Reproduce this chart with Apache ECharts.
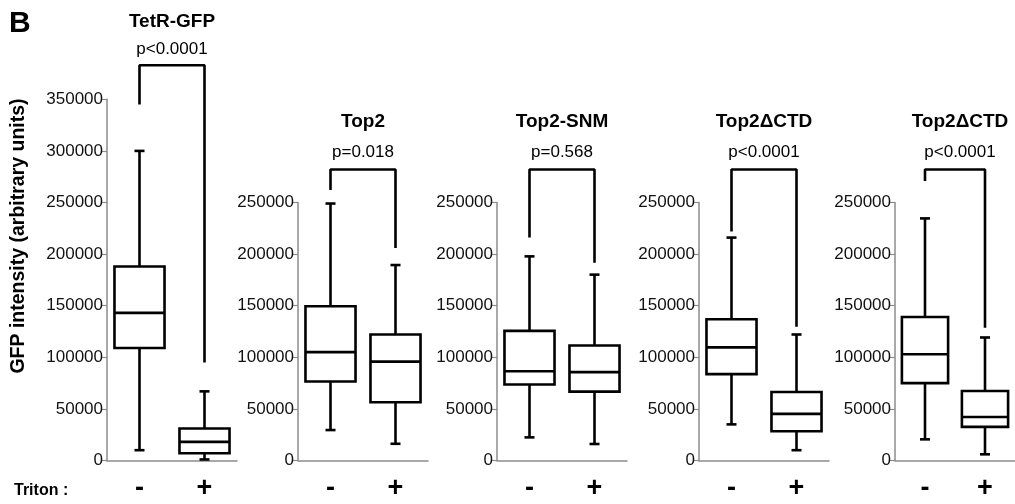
<!DOCTYPE html>
<html>
<head>
<meta charset="utf-8">
<script src="https://cdn.jsdelivr.net/npm/echarts@6/dist/echarts.min.js"></script>
<style>
  html, body { margin: 0; padding: 0; background: #fff; }
  #chart { width: 1015px; height: 504px; }
</style>
</head>
<body>
<div id="chart"></div>
<script>
const panelNames = ['TetR-GFP', 'Top2', 'Top2-SNM', 'Top2\u0394CTD', 'Top2\u0394CTD'];
const pValues = ['p<0.0001', 'p=0.018', 'p=0.568', 'p<0.0001', 'p<0.0001'];
const categories = ['-', '+'];
const yMax = [350000, 250000, 250000, 250000, 250000];

// [min, Q1, median, Q3, max]
const minusBox = [
  [10000, 109000, 143000, 188000, 300000],
  [29500, 76500, 105000, 149500, 249000],
  [22400, 73700, 86500, 125600, 197800],
  [35000, 83700, 109600, 136900, 216000],
  [20500, 75000, 102900, 139100, 234600],
];
const plusBox = [
  [1000, 7000, 18000, 31000, 67000],
  [16200, 56500, 95800, 122100, 189400],
  [16000, 66700, 85600, 111500, 180100],
  [10000, 28300, 45200, 66400, 122100],
  [6000, 32600, 42200, 67300, 119200],
];

// significance brackets
const bracketTop = [383000, 282000, 282000, 282000, 282000];
const bracketLeftEnd = [345000, 262000, 216000, 222000, 270800];
const bracketRightEnd = [95000, 206000, 191700, 129600, 128700];

const chart = echarts.init(document.getElementById('chart'));

const gridLeft = [107, 298, 497, 699, 895];
const gridW = 130;
const zeroY = 460.5;
const pxPer50k = 51.6;
const font = 'Liberation Sans, Arial, sans-serif';

const grids = [];
const xAxes = [];
const yAxes = [];
const series = [];
const texts = [];

function renderBox(params, api) {
  const x = api.value(0);
  const pMin = api.coord([x, api.value(1)]);
  const pQ1 = api.coord([x, api.value(2)]);
  const pMed = api.coord([x, api.value(3)]);
  const pQ3 = api.coord([x, api.value(4)]);
  const pMax = api.coord([x, api.value(5)]);
  const cx = pMed[0];
  const hw = api.size([1, 0])[0] * 0.385;
  const cap = 5;
  const st = { stroke: '#000', lineWidth: 2.6 };
  return {
    type: 'group',
    children: [
      { type: 'line', shape: { x1: cx, y1: pMax[1], x2: cx, y2: pQ3[1] }, style: st },
      { type: 'line', shape: { x1: cx, y1: pQ1[1], x2: cx, y2: pMin[1] }, style: st },
      { type: 'line', shape: { x1: cx - cap, y1: pMax[1], x2: cx + cap, y2: pMax[1] }, style: st },
      { type: 'line', shape: { x1: cx - cap, y1: pMin[1], x2: cx + cap, y2: pMin[1] }, style: st },
      { type: 'rect', shape: { x: cx - hw, y: pQ3[1], width: hw * 2, height: pQ1[1] - pQ3[1] },
        style: { stroke: '#000', lineWidth: 2.6, fill: '#fff' } },
      { type: 'line', shape: { x1: cx - hw, y1: pMed[1], x2: cx + hw, y2: pMed[1] }, style: st },
    ],
  };
}

panelNames.forEach((name, i) => {
  const top = zeroY - (yMax[i] / 50000) * pxPer50k;
  grids.push({ left: gridLeft[i], top: top, width: gridW, height: zeroY - top });
  xAxes.push({
    type: 'category',
    gridIndex: i,
    data: categories,
    axisLine: { lineStyle: { color: '#8c8c8c', width: 1.5 } },
    axisTick: { show: false },
    axisLabel: { fontFamily: font, fontWeight: 'bold', fontSize: 27, color: '#000', margin: 15 },
  });
  yAxes.push({
    type: 'value',
    gridIndex: i,
    min: 0,
    max: yMax[i],
    interval: 50000,
    splitLine: { show: false },
    axisLine: { show: true, lineStyle: { color: '#8c8c8c', width: 1.5 } },
    axisTick: { show: true, length: 5, lineStyle: { color: '#8c8c8c', width: 1.2 } },
    axisLabel: { fontFamily: font, fontSize: 17, color: '#111', margin: 4, formatter: (v) => String(v) },
  });
  series.push({
    type: 'custom',
    xAxisIndex: i,
    yAxisIndex: i,
    renderItem: renderBox,
    encode: { x: 0, y: [1, 2, 3, 4, 5] },
    data: [[0].concat(minusBox[i]), [1].concat(plusBox[i])],
    animation: false,
  });
  series.push({
    type: 'line',
    xAxisIndex: i,
    yAxisIndex: i,
    symbol: 'none',
    clip: false,
    lineStyle: { color: '#000', width: 2.6 },
    data: [[0, bracketLeftEnd[i]], [0, bracketTop[i]], [1, bracketTop[i]], [1, bracketRightEnd[i]]],
    animation: false,
  });
  const cx = gridLeft[i] + gridW / 2;
  const titleY = i === 0 ? 22 : 122;
  const pY = i === 0 ? 49 : 152;
  texts.push({
    type: 'text', x: cx, y: titleY,
    style: { text: name, font: 'bold 19px ' + font, fill: '#000', textAlign: 'center', textVerticalAlign: 'middle' },
  });
  texts.push({
    type: 'text', x: cx, y: pY,
    style: { text: pValues[i], font: '17px ' + font, fill: '#000', textAlign: 'center', textVerticalAlign: 'middle' },
  });
});

texts.push({
  type: 'text', x: 9, y: 24,
  style: { text: 'B', font: 'bold 30px ' + font, fill: '#000', textAlign: 'left', textVerticalAlign: 'middle' },
});
texts.push({
  type: 'text', x: 14, y: 491,
  style: { text: 'Triton :', font: 'bold 16px ' + font, fill: '#000', textAlign: 'left', textVerticalAlign: 'middle' },
});
texts.push({
  type: 'text', x: 19, y: 236, rotation: Math.PI / 2,
  style: { text: 'GFP intensity (arbitrary units)', font: 'bold 19.5px ' + font, fill: '#000', textAlign: 'center', textVerticalAlign: 'middle' },
});

chart.setOption({
  backgroundColor: '#fff',
  animation: false,
  grid: grids,
  xAxis: xAxes,
  yAxis: yAxes,
  series: series,
  graphic: texts,
});
</script>
</body>
</html>
